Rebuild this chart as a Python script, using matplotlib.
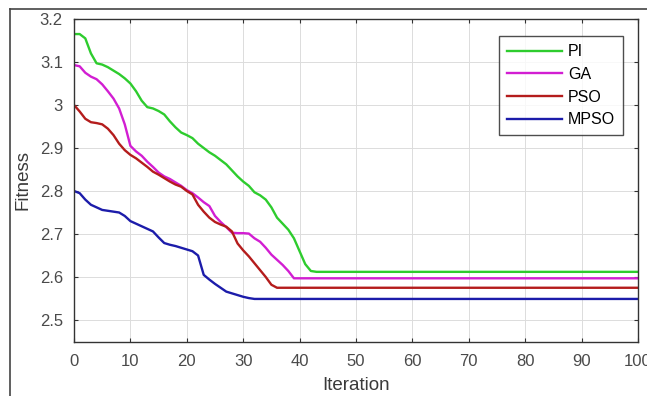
import matplotlib
matplotlib.use('Agg')
import matplotlib.pyplot as plt
from matplotlib.lines import Line2D

# iterations; after the plateau each curve stays flat to 100
iter_pi = list(range(0, 44)) + [100]
fit_pi = [3.165, 3.165, 3.155, 3.12, 3.097, 3.094, 3.088, 3.08, 3.072, 3.062,
          3.05, 3.032, 3.01, 2.995, 2.992, 2.986, 2.978, 2.962, 2.948, 2.936,
          2.93, 2.923, 2.91, 2.9, 2.89, 2.882, 2.872, 2.862, 2.848, 2.834,
          2.822, 2.812, 2.797, 2.79, 2.78, 2.762, 2.738, 2.724, 2.71, 2.69,
          2.66, 2.63, 2.614, 2.612, 2.612]

iter_ga = list(range(0, 40)) + [100]
fit_ga = [3.093, 3.09, 3.075, 3.066, 3.06, 3.048, 3.032, 3.015, 2.992, 2.955,
          2.905, 2.892, 2.882, 2.868, 2.856, 2.843, 2.834, 2.828, 2.82, 2.812,
          2.802, 2.795, 2.785, 2.774, 2.765, 2.742, 2.728, 2.716, 2.703, 2.702,
          2.702, 2.701, 2.69, 2.682, 2.668, 2.652, 2.64, 2.628, 2.614, 2.597,
          2.597]

iter_pso = list(range(0, 37)) + [100]
fit_pso = [3.0, 2.985, 2.968, 2.96, 2.958, 2.955, 2.945, 2.93, 2.91, 2.895,
           2.884, 2.876, 2.866, 2.856, 2.845, 2.838, 2.83, 2.822, 2.815, 2.81,
           2.8, 2.792, 2.768, 2.752, 2.738, 2.728, 2.722, 2.717, 2.706, 2.678,
           2.662, 2.648, 2.632, 2.616, 2.6, 2.582, 2.575, 2.575]

iter_mpso = list(range(0, 33)) + [100]
fit_mpso = [2.8, 2.795, 2.78, 2.768, 2.762, 2.756, 2.754, 2.752, 2.75, 2.742,
            2.73, 2.724, 2.718, 2.712, 2.706, 2.692, 2.679, 2.675, 2.672, 2.668,
            2.664, 2.66, 2.65, 2.605, 2.594, 2.584, 2.575, 2.566, 2.562, 2.558,
            2.554, 2.551, 2.549, 2.549]

xticks = [0, 10, 20, 30, 40, 50, 60, 70, 80, 90, 100]
yticks = [2.5, 2.6, 2.7, 2.8, 2.9, 3.0, 3.1, 3.2]
ytick_labels = ['2.5', '2.6', '2.7', '2.8', '2.9', '3', '3.1', '3.2']

plt.rcParams['font.family'] = ['Liberation Sans', 'DejaVu Sans']

fig = plt.figure(figsize=(6.47, 3.96), dpi=100)
ax = fig.add_axes([0.1144, 0.1376, 0.8716, 0.8144])

ax.plot(iter_pi, fit_pi, color='#2ecc2e', lw=1.7, label='PI')
ax.plot(iter_ga, fit_ga, color='#d21ed2', lw=1.7, label='GA')
ax.plot(iter_pso, fit_pso, color='#b41c1c', lw=1.7, label='PSO')
ax.plot(iter_mpso, fit_mpso, color='#1c1caa', lw=1.7, label='MPSO')

ax.set_xlim(0, 100)
ax.set_ylim(2.45, 3.2)
ax.set_xticks(xticks)
ax.set_yticks(yticks)
ax.set_yticklabels(ytick_labels)
ax.grid(True, color='#dcdcdc', lw=0.7)
ax.tick_params(direction='in', top=True, right=True, length=3,
               labelsize=12, labelcolor='#4a4a4a', color='#333333')
ax.tick_params(axis='x', pad=9)
ax.tick_params(axis='y', pad=8)
for s in ax.spines.values():
    s.set_color('#333333')
    s.set_linewidth(1.0)

ax.set_xlabel('Iteration', fontsize=13.5, color='#3a3a3a', labelpad=6)
ax.set_ylabel('Fitness', fontsize=13.5, color='#3a3a3a', labelpad=6)

leg = ax.legend(loc='upper right', bbox_to_anchor=(0.974, 0.946), fontsize=11.5,
                frameon=True, fancybox=False, handlelength=3.4,
                handletextpad=0.4, labelspacing=0.48, borderpad=0.5,
                borderaxespad=0.0)
leg.get_frame().set_edgecolor('#222222')
leg.get_frame().set_linewidth(1.0)

# screenshot border
fig.add_artist(Line2D([10 / 647, 10 / 647], [0, 1 - 9 / 396],
                      transform=fig.transFigure, color='#444444', lw=1.2))
fig.add_artist(Line2D([10 / 647, 1], [1 - 9 / 396, 1 - 9 / 396],
                      transform=fig.transFigure, color='#444444', lw=1.2))

fig.savefig('out.png', dpi=100)
